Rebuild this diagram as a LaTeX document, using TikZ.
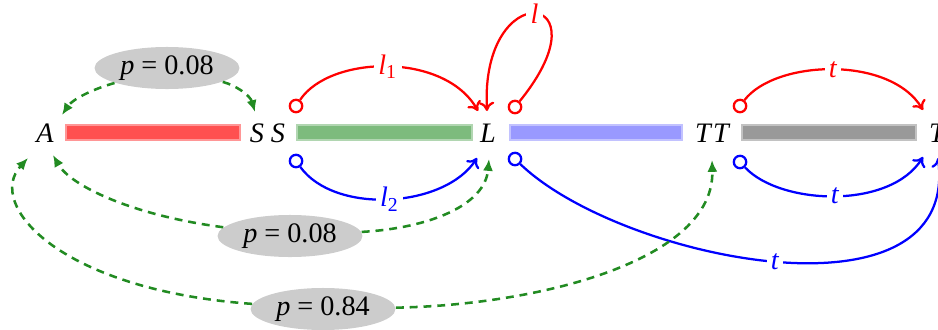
\documentclass[tikz,border=0pt]{standalone}
\usepackage{fontspec}
\setmainfont{Liberation Serif}
\usetikzlibrary{arrows.meta,shapes.geometric}
\definecolor{barred}{RGB}{255,80,80}
\definecolor{bargreen}{RGB}{125,187,125}
\definecolor{barblue}{RGB}{153,153,255}
\definecolor{bargray}{RGB}{153,153,153}
\definecolor{pgreen}{RGB}{34,139,34}
\definecolor{pfill}{RGB}{204,204,204}
\begin{document}
\begin{tikzpicture}[x=0.3546pt,y=-0.3546pt,
  letter/.style={font=\itshape, inner sep=0pt},
  ocirc/.style={circle, draw, line width=0.8pt, fill=white, minimum size=4.4pt, inner sep=0pt},
  barbox/.style={draw=#1!60!white, fill=#1, line width=0.4pt},
  arc/.style={line width=0.8pt, -{To[length=3.2pt,width=5.4pt]}},
  lab/.style={fill=white, inner sep=1.5pt, font=\itshape},
  prob/.style={ellipse, fill=pfill, minimum width=51.4pt, minimum height=14.9pt, inner sep=0pt},
  pdash/.style={pgreen, line width=0.9pt, dash pattern=on 2.8pt off 2.1pt, -{Latex[length=4.2pt,width=3.6pt]}}
]
\useasboundingbox (0,0) rectangle (938,330);
\clip (0,0) rectangle (938,330);

% bars
\draw[barbox=barred]   (66,125)  rectangle (240,140);
\draw[barbox=bargreen] (297,125) rectangle (472,140);
\draw[barbox=barblue]  (510,125) rectangle (682,140);
\draw[barbox=bargray]  (742,125) rectangle (916,140);

% letters
\node[letter] (A)  at (45,133)  {A};
\node[letter] (S1) at (257,133) {S};
\node[letter] (S2) at (278,133) {S};
\node[letter] (L)  at (488,133) {L};
\node[letter] (T1) at (703,133) {T};
\node[letter] (T2) at (721,133) {T};
\node[letter] (T3) at (937,133) {T};

% circles
\node[ocirc, draw=red]  (cr1) at (296,106) {};
\node[ocirc, draw=blue] (cb1) at (296,161) {};
\node[ocirc, draw=red]  (cr2) at (515,107) {};
\node[ocirc, draw=blue] (cb2) at (515,159) {};
\node[ocirc, draw=red]  (cr3) at (740,106) {};
\node[ocirc, draw=blue] (cb3) at (740,162) {};

% probability ellipses
\node[prob] (E1) at (167,68)  {\textit{p} = 0.08};
\node[prob] (E2) at (290,236) {\textit{p} = 0.08};
\node[prob] (E3) at (323,309) {\textit{p} = 0.84};

% red / blue transitions
\draw[arc, red] (cr1) .. controls (330,55) and (445,52) .. ([shift={(-10,-22)}]L.center)
  node[lab, pos=0.5] {l\textsubscript{\upshape 1}};
\draw[arc, red] (cr2) .. controls (610,-10) and (480,-25) .. ([shift={(-1,-22)}]L.center)
  node[lab, pos=0.5] {l};
\draw[arc, blue] (cb1) .. controls (335,215) and (445,208) .. ([shift={(-11,25)}]L.center)
  node[lab, pos=0.5] {l\textsubscript{\upshape 2}};
\draw[arc, blue] (cb2) .. controls (620,260) and (960,330) .. ([shift={(1,25)}]T3.center)
  node[lab, pos=0.5] {t};
\draw[arc, red] (cr3) .. controls (775,60) and (890,55) .. ([shift={(-14,-23)}]T3.center)
  node[lab, pos=0.5] {t};
\draw[arc, blue] (cb3) .. controls (780,205) and (890,210) .. ([shift={(-14,24)}]T3.center)
  node[lab, pos=0.5] {t};

% green dashed probability arrows
\draw[pdash] (E1) .. controls (90,90) and (72,100) .. ([shift={(17,-18)}]A.center);
\draw[pdash] (E1) .. controls (235,85) and (250,95) .. ([shift={(-2,-21)}]S1.center);
\draw[pdash] (E2) .. controls (130,215) and (70,185) .. ([shift={(8,22)}]A.center);
\draw[pdash] (E2) .. controls (430,228) and (485,205) .. ([shift={(1,26)}]L.center);
\draw[pdash] (E3) .. controls (60,290) and (-15,205) .. ([shift={(-17,25)}]A.center);
\draw[pdash] (E3) .. controls (540,305) and (715,260) .. ([shift={(9,27)}]T1.center);
\end{tikzpicture}
\end{document}
